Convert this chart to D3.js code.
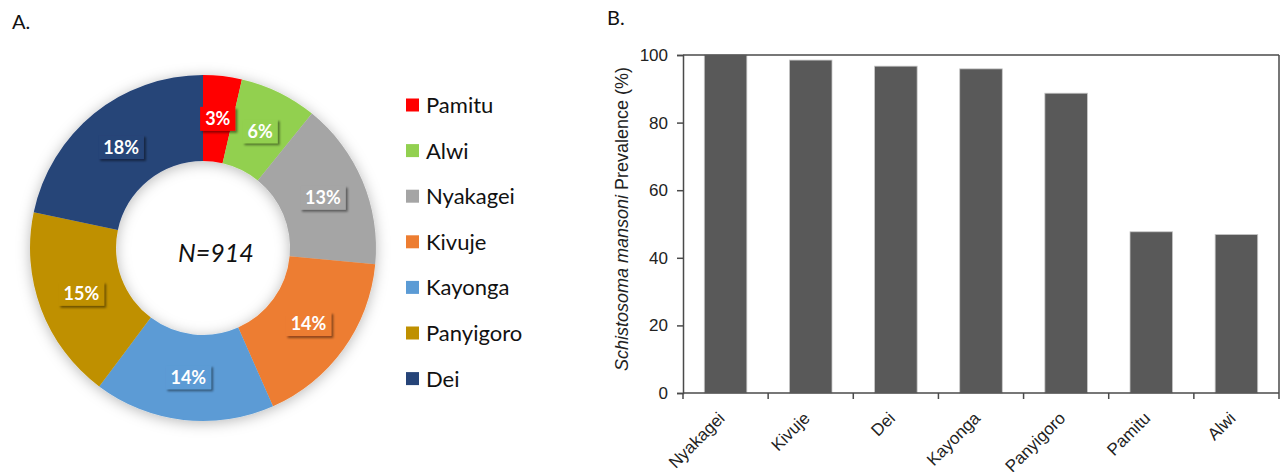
<!DOCTYPE html>
<html>
<head>
<meta charset="utf-8">
<script src="https://cdn.jsdelivr.net/npm/d3@7"></script>
<style>
  html, body { margin: 0; padding: 0; background: #ffffff; }
  svg { display: block; }
</style>
</head>
<body>
<svg id="chart" width="1285" height="472"></svg>
<script>
// Panel A: share of participants by village
const villages = ["Pamitu", "Alwi", "Nyakagei", "Kivuje", "Kayonga", "Panyigoro", "Dei"];
const sharePct = [3, 6, 13, 14, 14, 15, 18];
const villageColors = ["#FF0000", "#92D050", "#A5A5A5", "#ED7D31", "#5B9BD5", "#BF9000", "#264478"];
const totalN = 914;

// Panel B: prevalence by village
const barVillages = ["Nyakagei", "Kivuje", "Dei", "Kayonga", "Panyigoro", "Pamitu", "Alwi"];
const prevalence = [100, 98.5, 96.7, 95.9, 88.7, 47.7, 46.9];
const yTicks = [0, 20, 40, 60, 80, 100];

const svg = d3.select("#chart");
const defs = svg.append("defs");

// soft halo around the ring
const halo = defs.append("filter").attr("id", "halo")
  .attr("x", "-20%").attr("y", "-20%").attr("width", "140%").attr("height", "140%");
halo.append("feDropShadow").attr("dx", 0).attr("dy", 2).attr("stdDeviation", 7)
  .attr("flood-color", "#000").attr("flood-opacity", 0.28);

// small offset shadow under the percentage boxes
const boxShadow = defs.append("filter").attr("id", "boxShadow")
  .attr("x", "-30%").attr("y", "-30%").attr("width", "160%").attr("height", "160%");
boxShadow.append("feDropShadow").attr("dx", 2).attr("dy", 2).attr("stdDeviation", 1.2)
  .attr("flood-color", "#000").attr("flood-opacity", 0.45);

const sans = "Lato, 'Open Sans', sans-serif";
const arial = "'Liberation Sans', Arial, sans-serif";

// ---------- Panel A ----------
svg.append("text").attr("x", 12).attr("y", 29)
  .attr("font-family", sans).attr("font-size", 20).attr("fill", "#111").text("A.");

const cx = 203, cy = 248, rOuter = 173, rInner = 87;
const pieData = villages.map((v, i) => ({ name: v, value: sharePct[i], color: villageColors[i] }));
const pie = d3.pie().sort(null).value(d => d.value);
const arcs = pie(pieData);
const arc = d3.arc().innerRadius(rInner).outerRadius(rOuter);

const donut = svg.append("g").attr("transform", `translate(${cx},${cy})`);
donut.append("g").attr("filter", "url(#halo)")
  .selectAll("path").data(arcs).join("path")
  .attr("d", arc).attr("fill", d => d.data.color);

const labels = donut.append("g").selectAll("g").data(arcs).join("g")
  .attr("transform", d => `translate(${arc.centroid(d)})`);
labels.append("rect").attr("fill", d => d.data.color).attr("filter", "url(#boxShadow)");
labels.append("text")
  .attr("text-anchor", "middle").attr("dy", "0.36em")
  .attr("font-family", sans).attr("font-weight", 700).attr("font-size", 18)
  .attr("fill", "#ffffff").text(d => d.data.value + "%");
labels.each(function () {
  const g = d3.select(this);
  const w = g.select("text").node().getComputedTextLength() + 10;
  g.select("rect").attr("x", -w / 2).attr("y", -12).attr("width", w).attr("height", 24);
});

svg.append("text").attr("x", 216).attr("y", 262).attr("text-anchor", "middle")
  .attr("font-family", sans).attr("font-style", "italic").attr("font-size", 25)
  .attr("fill", "#111").text("N=" + totalN);

// legend
const legend = svg.append("g").selectAll("g").data(pieData).join("g")
  .attr("transform", (d, i) => `translate(406, ${105 + i * 45.6})`);
legend.append("rect").attr("x", 0).attr("y", -6.5).attr("width", 13).attr("height", 13)
  .attr("fill", d => d.color);
legend.append("text").attr("x", 20).attr("dy", "0.36em")
  .attr("font-family", sans).attr("font-size", 22).attr("fill", "#111").text(d => d.name);

// ---------- Panel B ----------
svg.append("text").attr("x", 607).attr("y", 25)
  .attr("font-family", sans).attr("font-size", 20).attr("fill", "#111").text("B.");

const x0 = 683, x1 = 1279, yTop = 55, yBot = 393;
const x = d3.scaleBand().domain(barVillages).range([x0, x1]).paddingInner(0.5).paddingOuter(0.25);
const y = d3.scaleLinear().domain([0, 100]).range([yBot, yTop]);

const frameColor = "#4a4a4a";
const plot = svg.append("g");

plot.selectAll("rect.bar").data(barVillages).join("rect").attr("class", "bar")
  .attr("x", d => x(d)).attr("width", x.bandwidth())
  .attr("y", (d, i) => y(prevalence[i]))
  .attr("height", (d, i) => yBot - y(prevalence[i]))
  .attr("fill", "#595959").attr("stroke", "#c8c8c8").attr("stroke-width", 0.8);

// frame top and right
plot.append("line").attr("x1", x0).attr("x2", x1).attr("y1", yTop).attr("y2", yTop)
  .attr("stroke", frameColor).attr("stroke-width", 1.5);
plot.append("line").attr("x1", x1).attr("x2", x1).attr("y1", yTop).attr("y2", yBot)
  .attr("stroke", frameColor).attr("stroke-width", 1.5);

// y axis
const yAxis = plot.append("g").attr("transform", `translate(${x0},0)`)
  .call(d3.axisLeft(y).tickValues(yTicks).tickSize(6).tickPadding(9));
yAxis.select(".domain").attr("stroke", frameColor).attr("stroke-width", 1.5);
yAxis.selectAll(".tick line").attr("stroke", frameColor).attr("stroke-width", 1.5);
yAxis.selectAll(".tick text").attr("font-family", arial).attr("font-size", 17).attr("fill", "#222");

// x axis: ticks sit on the category boundaries
const step = x.step();
const boundaries = d3.range(barVillages.length + 1).map(i => x0 + i * step);
plot.append("line").attr("x1", x0).attr("x2", x1).attr("y1", yBot).attr("y2", yBot)
  .attr("stroke", frameColor).attr("stroke-width", 1.5);
plot.selectAll("line.xtick").data(boundaries).join("line").attr("class", "xtick")
  .attr("x1", d => d).attr("x2", d => d).attr("y1", yBot).attr("y2", yBot + 6)
  .attr("stroke", frameColor).attr("stroke-width", 1.5);
plot.selectAll("text.xlab").data(barVillages).join("text").attr("class", "xlab")
  .attr("transform", d => `translate(${x(d) + x.bandwidth() / 2 - 4},${yBot + 22}) rotate(-45)`)
  .attr("text-anchor", "end").attr("dy", "0.35em")
  .attr("font-family", arial).attr("font-size", 17).attr("fill", "#222").text(d => d);

// y axis title
const yTitle = svg.append("text")
  .attr("transform", `translate(628,219) rotate(-90)`)
  .attr("text-anchor", "middle")
  .attr("font-family", arial).attr("font-size", 18).attr("fill", "#222");
yTitle.append("tspan").attr("font-style", "italic").text("Schistosoma mansoni");
yTitle.append("tspan").text(" Prevalence (%)");
</script>
</body>
</html>
